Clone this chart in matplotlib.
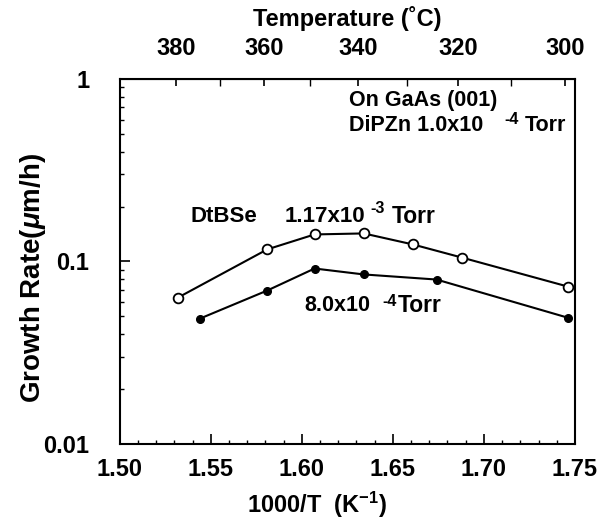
import numpy as np
import matplotlib
matplotlib.use("Agg")
import matplotlib.pyplot as plt
from matplotlib.ticker import FixedLocator, NullFormatter, MultipleLocator

plt.rcParams["font.family"] = ["Liberation Sans", "DejaVu Sans"]
plt.rcParams["font.weight"] = "bold"
plt.rcParams["mathtext.fontset"] = "custom"
plt.rcParams["mathtext.rm"] = "Liberation Sans:bold"
plt.rcParams["mathtext.it"] = "Liberation Sans:italic:bold"
plt.rcParams["mathtext.bf"] = "Liberation Sans:bold"
plt.rcParams["mathtext.default"] = "rm"

# data
x_high = [1.532, 1.581, 1.607, 1.634, 1.661, 1.688, 1.746]
rate_high = [0.0634, 0.1165, 0.1407, 0.1425, 0.124, 0.105, 0.0729]
x_low = [1.544, 1.581, 1.607, 1.634, 1.674, 1.746]
rate_low = [0.0486, 0.0693, 0.0915, 0.0849, 0.0796, 0.0492]

x_ticks = [1.50, 1.55, 1.60, 1.65, 1.70, 1.75]
temp_ticks = [380, 360, 340, 320, 300]
temp_minor = [370, 350, 330, 310]

fig = plt.figure(figsize=(6.11, 5.24), dpi=100)
ax = fig.add_axes([0.196, 0.153, 0.745, 0.696])

ax.plot(x_high, rate_high, "-o", color="black", lw=1.5, ms=7,
        mfc="white", mec="black", mew=1.3, zorder=3)
ax.plot(x_low, rate_low, "-o", color="black", lw=1.5, ms=5.5,
        mfc="black", mec="black", zorder=3)

ax.set_yscale("log")
ax.set_xlim(1.50, 1.75)
ax.set_ylim(0.01, 1)

ax.set_xticks(x_ticks)
ax.set_xticklabels([f"{v:.2f}" for v in x_ticks])
ax.xaxis.set_minor_locator(MultipleLocator(0.01))
ax.set_yticks([0.01, 0.1, 1])
ax.set_yticklabels(["0.01", "0.1", "1"])
ax.yaxis.set_minor_formatter(NullFormatter())

ax.tick_params(axis="both", which="major", direction="in", length=7, width=1.2,
               labelsize=17, top=False, right=False)
ax.tick_params(axis="both", which="minor", direction="in", length=3, width=1.0,
               top=False, right=False)
ax.tick_params(axis="x", which="major", pad=10)
ax.tick_params(axis="y", which="major", pad=22)
for spine in ax.spines.values():
    spine.set_linewidth(1.5)

# top axis in degrees C
def to_temp(x):
    return 1000.0 / np.asarray(x, dtype=float) - 273.15

def to_inv(t):
    return 1000.0 / (np.asarray(t, dtype=float) + 273.15)

top = ax.secondary_xaxis("top", functions=(to_temp, to_inv))
top.xaxis.set_major_locator(FixedLocator(temp_ticks))
top.xaxis.set_minor_locator(FixedLocator(temp_minor))
top.set_xticklabels([str(t) for t in temp_ticks])
top.tick_params(which="major", direction="in", length=5, width=1.2, labelsize=17, pad=14)
top.tick_params(which="minor", direction="in", length=5, width=1.0)
top.set_xlabel("Temperature (˚C)", fontsize=17, fontweight="bold", labelpad=8)

ax.set_xlabel("1000/T  (K$^{-1}$)", fontsize=17, fontweight="bold")
ax.xaxis.set_label_coords(0.433, -0.125)
ax.set_ylabel(r"Growth Rate($\mathit{\mu}$m/h)", fontsize=20, fontweight="bold")
ax.yaxis.set_label_coords(-0.158, 0.456)

# annotations: text, superscript exponent, unit
def pressure(x0, y0, mant, size, x_exp, y_exp, exp, x_unit, unit_size):
    ax.text(x0, y0, mant, fontsize=size, fontweight="bold", va="center")
    ax.text(x_exp, y_exp, exp, fontsize=11.5, fontweight="bold", va="center")
    ax.text(x_unit, y0, "Torr", fontsize=unit_size, fontweight="bold", va="center")

ax.text(1.6258, 0.767, "On GaAs (001)", fontsize=15.5, fontweight="bold", va="center")
pressure(1.6258, 0.555, "DiPZn 1.0x10", 15.5, 1.7115, 0.603, "-4", 1.7225, 15.5)
ax.text(1.5390, 0.1756, "DtBSe", fontsize=16, fontweight="bold", va="center")
pressure(1.5907, 0.1756, "1.17x10", 16, 1.6375, 0.1954, "-3", 1.6495, 16.5)
pressure(1.6016, 0.0576, "8.0x10", 15.5, 1.644, 0.0605, "-4", 1.6527, 16.5)

fig.savefig("out.png", dpi=100, facecolor="white")
